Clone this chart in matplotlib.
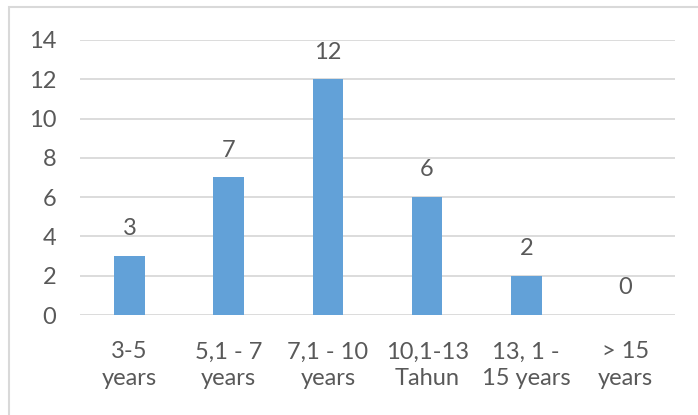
import matplotlib.pyplot as plt
from matplotlib.patches import Rectangle

# experience groups and counts
categories = ["3-5\nyears", "5,1 - 7\nyears", "7,1 - 10\nyears",
              "10,1-13\nTahun", "13, 1 -\n15 years", "> 15\nyears"]
counts = [3, 7, 12, 6, 2, 0]
y_ticks = [0, 2, 4, 6, 8, 10, 12, 14]

text_color = "#595959"
plt.rcParams["font.family"] = ["Lato", "DejaVu Sans"]

fig = plt.figure(figsize=(6.98, 4.15), dpi=100)
ax = fig.add_axes([80 / 698, 1 - 315 / 415, 595 / 698, 275 / 415])

x = range(len(categories))
ax.bar(x, counts, width=0.31, color="#62A1D8", zorder=3)

for xi, v in zip(x, counts):
    ax.annotate(str(v), (xi, v), xytext=(0, 12), textcoords="offset points",
                ha="center", va="bottom", fontsize=17, color=text_color)

ax.set_xlim(-0.5, len(categories) - 0.5)
ax.set_ylim(0, 14)
ax.set_yticks(y_ticks)
ax.set_xticks(list(x))
ax.set_xticklabels(categories, linespacing=1.35)
ax.tick_params(axis="both", length=0, labelsize=17, colors=text_color)
ax.tick_params(axis="y", pad=17)
ax.tick_params(axis="x", pad=19)
ax.grid(axis="y", color="#D9D9D9", linewidth=1.3, zorder=0)
for s in ax.spines.values():
    s.set_visible(False)

# chart-area border like the Excel frame
fig.patches.append(Rectangle((9 / 698, -0.2), 1.0, 1 - 7 / 415 + 0.2,
                             transform=fig.transFigure, fill=False,
                             edgecolor="#D9D9D9", linewidth=1.5))

fig.savefig("out.png", dpi=100)
